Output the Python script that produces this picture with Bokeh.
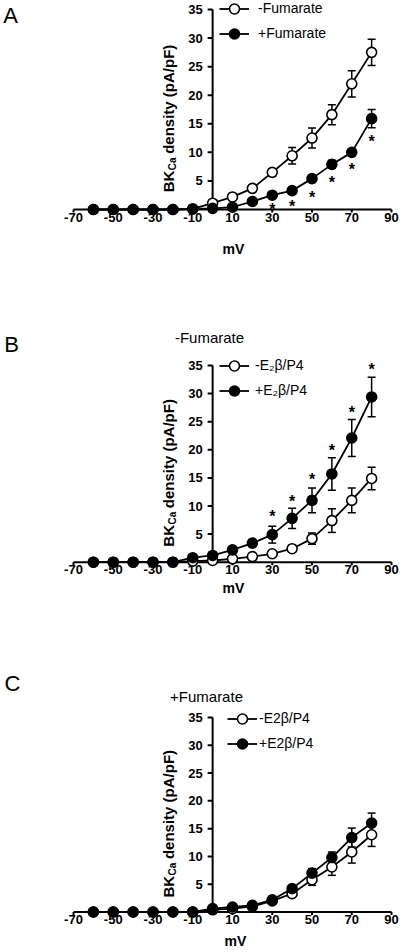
import math
from bokeh.plotting import figure
from bokeh.models import (ColumnDataSource, Range1d, Whisker, TeeHead, Legend,
                          LegendItem, Label)
from bokeh.layouts import column
from bokeh.embed import file_html
from bokeh.resources import INLINE
from bokeh.core.properties import value

# ---------------- data ----------------
mv = [-60, -50, -40, -30, -20, -10, 0, 10, 20, 30, 40, 50, 60, 70, 80]

xticks = [-70, -50, -30, -10, 10, 30, 50, 70, 90]
xtick_labels = ["-70", "-50", "-30", "-10", "10", "30", "50", "70", "90"]
yticks = [5, 10, 15, 20, 25, 30, 35]
ytick_labels = ["5", "10", "15", "20", "25", "30", "35"]

# Panel A
a_open = [0, 0, 0, 0, 0, 0.1, 1.1, 2.2, 3.7, 6.5, 9.4, 12.5, 16.6, 22.0, 27.5]
a_open_err = [0, 0, 0, 0, 0, 0, 0.3, 0.4, 0.5, 0.65, 1.45, 1.75, 1.75, 2.3, 2.3]
a_fill = [0, 0, 0, 0, 0, 0.1, 0.2, 0.4, 1.4, 2.5, 3.3, 5.4, 7.9, 10.0, 15.9]
a_fill_err = [0, 0, 0, 0, 0, 0, 0, 0, 0.2, 0.3, 0.4, 0.6, 0.7, 0.3, 1.6]
a_star_x = [30, 40, 50, 60, 70, 80]
a_star_y = [0.7, 1.2, 2.8, 5.4, 7.7, 12.6]
a_labels = ["-Fumarate", "+Fumarate"]

# Panel B
b_open = [0, 0, 0, 0, 0, 0.2, 0.3, 0.6, 1.0, 1.5, 2.4, 4.2, 7.4, 11.0, 14.9]
b_open_err = [0, 0, 0, 0, 0, 0, 0, 0.2, 0.3, 0.5, 0.6, 1.0, 2.1, 2.2, 2.0]
b_fill = [0, 0, 0, 0, 0, 0.8, 1.2, 2.2, 3.4, 4.9, 7.8, 11.0, 15.7, 22.1, 29.4]
b_fill_err = [0, 0, 0, 0, 0, 0.3, 0.4, 0.4, 0.5, 1.5, 1.8, 2.2, 2.9, 3.3, 3.5]
b_star_x = [30, 40, 50, 60, 70, 80]
b_star_y = [8.9, 11.6, 15.5, 20.6, 27.3, 35.0]
b_labels = ["-E\u2082\u03b2/P4", "+E\u2082\u03b2/P4"]
b_title = "-Fumarate"

# Panel C
c_open = [0, 0, 0, 0, 0, 0, 0.4, 0.6, 1.0, 2.0, 3.3, 5.8, 8.1, 10.8, 13.9]
c_open_err = [0, 0, 0, 0, 0, 0, 0, 0, 0.2, 0.3, 0.4, 1.0, 1.5, 2.0, 2.1]
c_fill = [0, 0, 0, 0, 0, 0, 0.6, 0.9, 1.2, 2.2, 4.2, 7.0, 9.8, 13.4, 16.0]
c_fill_err = [0, 0, 0, 0, 0, 0, 0, 0, 0.2, 0.3, 0.4, 0.8, 1.0, 1.7, 1.8]
c_star_x = []
c_star_y = []
c_labels = ["-E2\u03b2/P4", "+E2\u03b2/P4"]
c_title = "+Fumarate"

# ---------------- layout constants (page pixels) ----------------
W = 400
FONT = "Liberation Sans"
X_M70, X_90 = 73.0, 391.0          # page x of -70 mV and 90 mV
SX = (X_90 - X_M70) / 160.0
X0 = X_M70 + 70 * SX               # page x of 0 mV
x_start = -X0 / SX
x_end = (W - X0) / SX


def make_panel(fig_top, fig_h, y0_page, y35_page, open_v, open_e, fill_v, fill_e,
               labels, star_x, star_y, letter, letter_pos, title, title_pos, mv_pos,
               legend_left, legend_row1, legend_standoff):
    SY = (y0_page - y35_page) / 35.0
    y_start = -(fig_top + fig_h - y0_page) / SY
    y_end = (y0_page - fig_top) / SY

    def dx(px):
        return (px - X0) / SX

    def dy(py):
        return (y0_page - py) / SY

    p = figure(width=W, height=fig_h, output_backend="svg", toolbar_location=None,
               x_range=Range1d(x_start, x_end), y_range=Range1d(y_start, y_end),
               x_axis_type=None, y_axis_type=None,
               min_border_left=0, min_border_right=0,
               min_border_top=0, min_border_bottom=0)
    p.outline_line_color = None
    p.background_fill_color = "white"
    p.border_fill_color = "white"

    # ---- axes crossing at the origin (drawn on the data scales) ----
    p.segment(x0=[xticks[0], 0], y0=[0, 0], x1=[xticks[-1], 0], y1=[0, yticks[-1]],
              line_width=2, line_color="black")
    p.segment(x0=xticks, y0=[0] * len(xticks), x1=xticks,
              y1=[-3 / SY] * len(xticks), line_width=2, line_color="black")
    p.segment(x0=[0] * len(yticks), y0=yticks, x1=[-5 / SX] * len(yticks), y1=yticks,
              line_width=2, line_color="black")
    p.text(x=xticks, y=[0] * len(xticks), text=xtick_labels, text_font=value(FONT),
           text_font_style="bold", text_font_size="13px", text_align="center",
           text_baseline="top", y_offset=3, text_color="black")
    p.text(x=[0] * len(yticks), y=yticks, text=ytick_labels, text_font=value(FONT),
           text_font_style="bold", text_font_size="13px", text_align="right",
           text_baseline="middle", x_offset=-10, text_color="black")

    src_o = ColumnDataSource(dict(x=mv, y=open_v,
                                  lo=[v - e for v, e in zip(open_v, open_e)],
                                  hi=[v + e for v, e in zip(open_v, open_e)]))
    src_f = ColumnDataSource(dict(x=mv, y=fill_v,
                                  lo=[v - e for v, e in zip(fill_v, fill_e)],
                                  hi=[v + e for v, e in zip(fill_v, fill_e)]))

    rends = []
    for src, fill in ((src_o, "white"), (src_f, "black")):
        w = Whisker(source=src, base="x", lower="lo", upper="hi", dimension="height",
                    line_width=1.5, line_color="black",
                    upper_head=TeeHead(size=8, line_width=1.5, line_color="black"),
                    lower_head=TeeHead(size=8, line_width=1.5, line_color="black"))
        p.add_layout(w)
        lr = p.line("x", "y", source=src, line_width=1.8, line_color="black")
        sr = p.scatter("x", "y", source=src, marker="circle", size=10,
                       fill_color=fill, line_color="black", line_width=1.6)
        rends.append((lr, sr))

    if star_x:
        p.text(x=star_x, y=star_y, text=["*"] * len(star_x), text_font=value(FONT),
               text_font_style="bold", text_font_size="16px", text_align="center",
               text_baseline="middle", y_offset=4, text_color="black")

    legend = Legend(items=[LegendItem(label=labels[0], renderers=list(rends[0])),
                           LegendItem(label=labels[1], renderers=list(rends[1]))],
                    location=(legend_left, fig_h - (legend_row1 - fig_top - 12.5 + 50)),
                    orientation="vertical", glyph_width=30, glyph_height=25,
                    label_height=25, label_standoff=legend_standoff, spacing=0,
                    padding=0, margin=0, border_line_alpha=0, background_fill_alpha=0,
                    label_text_font=FONT, label_text_font_size="14px",
                    label_text_color="black", label_text_baseline="middle")
    p.add_layout(legend)

    # ---- y-axis label: BK(Ca) density (pA/pF), rotated ----
    lab_x = dx(X0 - 44)
    total = 1.444 * 15 + 1.278 * 10 + 4 + 7.278 * 15
    start_py = (y0_page + y35_page) / 2 + 9 + total / 2
    w_bk = 1.444 * 15
    w_ca = 1.278 * 10
    pieces = [("BK", 0, "15px", 0), ("Ca", w_bk + 0.5, "10px", 4),
              ("density (pA/pF)", w_bk + w_ca + 4, "15px", 0)]
    for txt, off, size, xo in pieces:
        p.add_layout(Label(x=lab_x, y=dy(start_py - off), text=txt, angle=math.pi / 2,
                           x_offset=xo, text_font=FONT, text_font_style="bold",
                           text_font_size=size, text_align="left", text_baseline="middle",
                           text_color="black"))

    p.add_layout(Label(x=dx(mv_pos[0]), y=dy(mv_pos[1]), text="mV", text_font=FONT,
                       text_font_style="bold", text_font_size="14px", text_align="center",
                       text_baseline="middle", text_color="black"))
    p.add_layout(Label(x=dx(letter_pos[0]), y=dy(letter_pos[1]), text=letter,
                       text_font=FONT, text_font_size="22px", text_align="center",
                       text_baseline="middle", text_color="black"))
    if title:
        p.add_layout(Label(x=dx(title_pos[0]), y=dy(title_pos[1]), text=title,
                           text_font=FONT, text_font_size="15px", text_align="center",
                           text_baseline="middle", text_color="black"))
    return p


pA = make_panel(0, 300, 209, 9, a_open, a_open_err, a_fill, a_fill_err, a_labels,
                a_star_x, a_star_y, "A", (10, 15), None, None, (233, 248), 219, 8, 9)
pB = make_panel(300, 350, 561.7, 365, b_open, b_open_err, b_fill, b_fill_err, b_labels,
                b_star_x, b_star_y, "B", (11, 344), b_title, (209, 337), (233, 587),
                219, 365, 6)
pC = make_panel(650, 302, 911.5, 717, c_open, c_open_err, c_fill, c_fill_err, c_labels,
                c_star_x, c_star_y, "C", (12, 683), c_title, (206, 696), (235, 940),
                227, 718, 2)

layout = column(pA, pB, pC, spacing=0)
open("out.html", "w").write(file_html(layout, INLINE))
